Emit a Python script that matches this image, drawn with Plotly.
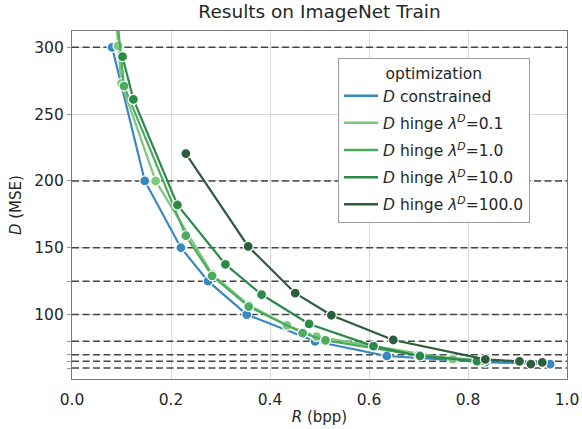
import plotly.graph_objects as go

# ---- data ----
targets = [300, 200, 150, 125, 100, 80, 70, 65, 60]

series_names = [
    "<i>D</i> constrained",
    "<i>D</i> hinge <i>λ</i><sup><i>D</i></sup>=0.1",
    "<i>D</i> hinge <i>λ</i><sup><i>D</i></sup>=1.0",
    "<i>D</i> hinge <i>λ</i><sup><i>D</i></sup>=10.0",
    "<i>D</i> hinge <i>λ</i><sup><i>D</i></sup>=100.0",
]

r_constrained = [0.081, 0.147, 0.220, 0.275, 0.353, 0.491, 0.636, 0.835, 0.966]
d_constrained = [300, 200, 150, 125, 100, 80, 69, 64.5, 63]

r_h01 = [0.086, 0.093, 0.100, 0.169, 0.284, 0.358, 0.434, 0.494, 0.769]
d_h01 = [340, 301, 273, 200, 130, 107, 92, 83.5, 66.7]

r_h1 = [0.089, 0.105, 0.230, 0.283, 0.357, 0.466, 0.512, 0.700, 0.830]
d_h1 = [330, 271, 159, 129, 106, 86.2, 80.7, 69.5, 65.5]

r_h10 = [0.102, 0.124, 0.213, 0.310, 0.383, 0.479, 0.609, 0.703, 0.818]
d_h10 = [293, 261, 182, 137.5, 115, 93, 76.4, 69, 65.2]

r_h100 = [0.230, 0.356, 0.451, 0.524, 0.649, 0.835, 0.904, 0.927, 0.950]
d_h100 = [220.5, 151, 116, 99.5, 81, 66.5, 65, 63, 64.2]

x_ticks = [0.0, 0.2, 0.4, 0.6, 0.8, 1.0]
y_ticks = [100, 150, 200, 250, 300]
y_minor_ticks = [60, 65, 70, 80, 125]

colors = ["#3787c0", "#7cc87d", "#4bab5e", "#2c8a48", "#2d5e3b"]

xs = [r_constrained, r_h01, r_h1, r_h10, r_h100]
ys = [d_constrained, d_h01, d_h1, d_h10, d_h100]

fig = go.Figure()

# horizontal dashed target lines (drawn under the data)
for t in targets:
    fig.add_trace(go.Scatter(
        x=[0, 1], y=[t, t], mode="lines", showlegend=False, hoverinfo="skip",
        line=dict(color="#454545", width=1.5, dash="7px,3.5px"),
    ))

for i, (x, y) in enumerate(zip(xs, ys)):
    fig.add_trace(go.Scatter(
        x=x, y=y, mode="lines+markers",
        line=dict(color=colors[i], width=2.2),
        marker=dict(color=colors[i], size=10, line=dict(color="white", width=1.2)),
        showlegend=False, cliponaxis=True,
    ))

# legend entries (lines only)
for i, name in enumerate(series_names):
    fig.add_trace(go.Scatter(
        x=[None], y=[None], mode="lines", name=name,
        line=dict(color=colors[i], width=2.5),
        legendgroup=f"g{i}",
    ))

# invisible trace to activate the minor-tick axis
fig.add_trace(go.Scatter(x=[None], y=[None], yaxis="y2", showlegend=False, hoverinfo="skip"))

font_family = "DejaVu Sans, sans-serif"
fig.update_layout(
    width=582, height=429,
    margin=dict(l=72, r=15, t=31, b=50, autoexpand=False),
    paper_bgcolor="white", plot_bgcolor="white",
    font=dict(family=font_family, size=15, color="#262626"),
    title=dict(text="Results on ImageNet Train", x=0.549, xanchor="center",
               yref="container", y=0.988, yanchor="top",
               font=dict(size=18.5, color="#262626")),
    legend=dict(
        x=0.537, y=0.923, xanchor="left", yanchor="top",
        bgcolor="white", bordercolor="#9a9a9a", borderwidth=1.2,
        font=dict(size=15.5, color="#262626"),
        title=dict(text="optimization", side="top center", font=dict(size=15.5)),
        tracegroupgap=4, itemwidth=34,
    ),
    xaxis=dict(
        range=[0, 1], tickvals=x_ticks, ticktext=[f"{v:.1f}" for v in x_ticks],
        showgrid=True, gridcolor="#d9d9d9", gridwidth=1,
        showline=True, linecolor="#7a7a7a", linewidth=1.2, mirror=True,
        zeroline=False, ticks="", ticklabelstandoff=6, automargin=False,
        title=dict(text="<i>R</i> (bpp)", standoff=3, font=dict(size=15)),
        tickfont=dict(size=15.5),
    ),
    yaxis=dict(
        range=[51.8, 312.2], tickvals=y_ticks, ticktext=[str(v) for v in y_ticks],
        showgrid=True, gridcolor="#d9d9d9", gridwidth=1,
        showline=True, linecolor="#7a7a7a", linewidth=1.2, mirror=True,
        zeroline=False, ticks="outside", ticklen=4, tickcolor="#9a9a9a",
        automargin=False, tickfont=dict(size=15.5),
    ),
    yaxis2=dict(
        overlaying="y", side="left", range=[51.8, 312.2], tickvals=y_minor_ticks,
        ticktext=["" for _ in y_minor_ticks], showgrid=False, zeroline=False, showline=False,
        ticks="outside", ticklen=4, tickcolor="#9a9a9a", automargin=False,
    ),
    annotations=[dict(
        text="<i>D</i> (MSE)", xref="paper", yref="paper", x=-0.113, y=0.5,
        xanchor="center", yanchor="middle", textangle=-90, showarrow=False,
        font=dict(size=15, color="#262626"),
    )],
)

fig.write_html(
    "out.html",
    config={"displayModeBar": False},
    post_script="document.body.style.margin='0';document.body.style.overflow='hidden';",
)
